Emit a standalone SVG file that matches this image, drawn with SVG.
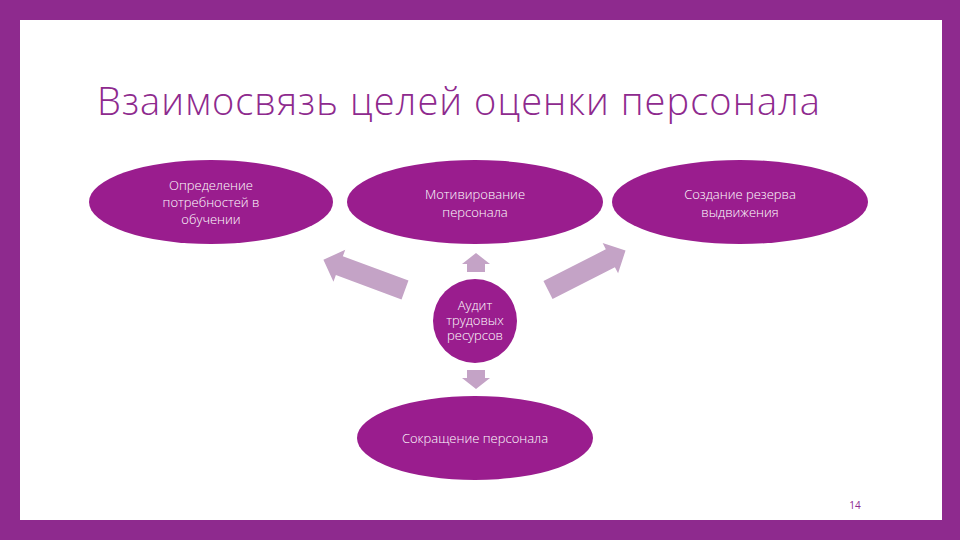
<svg xmlns="http://www.w3.org/2000/svg" width="960" height="540" viewBox="0 0 960 540">
<style>
.n{fill:#9a1d8e}
.t{font-family:"Open Sans","Liberation Sans",sans-serif;fill:#fff;font-size:13px;text-anchor:middle;font-weight:300}
.a{fill:#c4a3c6}
</style>
<rect width="960" height="540" fill="#8e2a8e"/>
<rect x="20" y="20" width="922" height="500" fill="#fff"/>
<text x="97" y="115" font-family="Open Sans, Liberation Sans, sans-serif" font-size="38" font-weight="300" fill="#8e2a8e" textLength="723">Взаимосвязь целей оценки персонала</text>
<g id="connectors">
<polygon class="a" transform="translate(405,290) rotate(-159.7)" points="0,-10 70,-10 70,-17 87,0 70,17 70,10 0,10"/>
<polygon class="a" transform="translate(548,290) rotate(-27)" points="0,-10 70,-10 70,-17 87,0 70,17 70,10 0,10"/>
<polygon class="a" points="467,272 485,272 485,264 490,264 476,253 462,264 467,264"/>
<polygon class="a" points="467,370 485,370 485,378 490,378 476,389 462,378 467,378"/>
</g>
<g id="n1"><ellipse class="n" cx="211" cy="202" rx="122" ry="42"/>
<text class="t"><tspan x="211" y="190">Определение</tspan><tspan x="211" y="207">потребностей в</tspan><tspan x="211" y="224">обучении</tspan></text></g>
<g id="n2"><ellipse class="n" cx="475" cy="202" rx="128" ry="42"/>
<text class="t"><tspan x="475" y="199">Мотивирование</tspan><tspan x="475" y="217">персонала</tspan></text></g>
<g id="n3"><ellipse class="n" cx="740" cy="202" rx="128" ry="42"/>
<text class="t"><tspan x="740" y="199">Создание резерва</tspan><tspan x="740" y="217">выдвижения</tspan></text></g>
<g id="n4"><circle class="n" cx="475" cy="321" r="42"/>
<text class="t" font-size="9.5" x="475" y="310">Аудит</text>
<text class="t" font-size="9.5" x="475" y="325">трудовых</text>
<text class="t" font-size="9.5" x="475" y="340">ресурсов</text></g>
<g id="n5"><ellipse class="n" cx="475" cy="438" rx="118" ry="42"/>
<text class="t" x="475" y="443">Сокращение персонала</text></g>
<text x="855" y="509" font-family="Open Sans, Liberation Sans, sans-serif" font-size="10" fill="#8e2a8e" text-anchor="middle">14</text>
</svg>
